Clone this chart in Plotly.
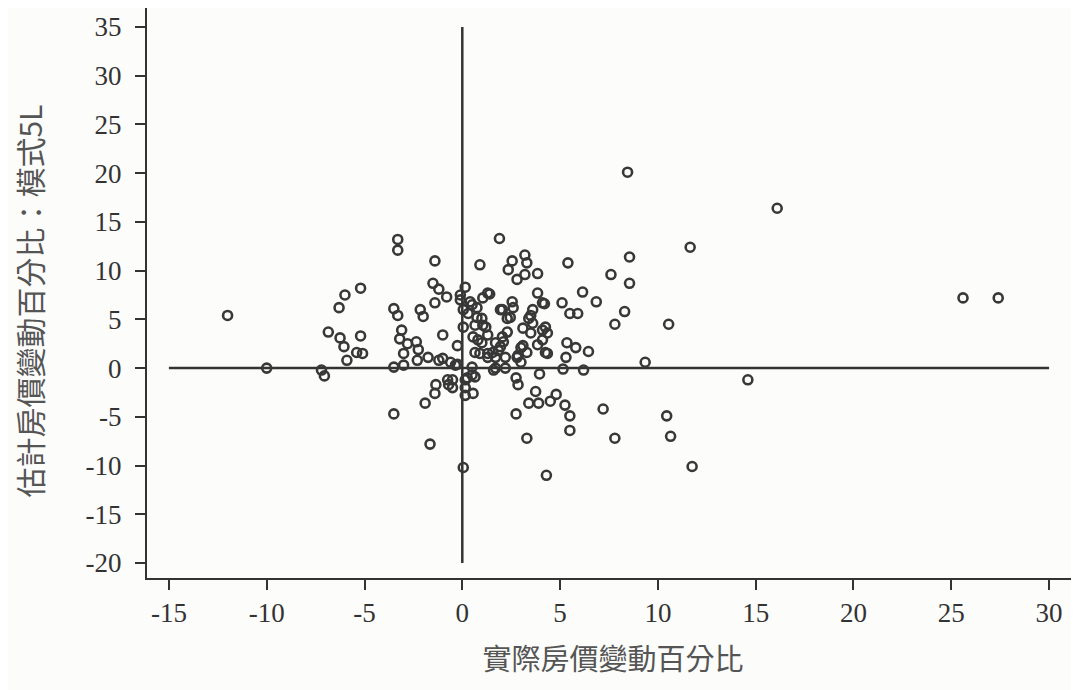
import plotly.graph_objects as go

# Actual house price change (%) -- x
actual_change = [
    -12.0, -10.0, -7.2, -7.05, -6.85, -6.3, -6.0, -5.2, -6.25, -6.05, -5.2, -5.4, -5.1, -5.9,
    -3.3, -3.3, -1.4, -1.5, -1.2, -0.8, -1.4, -3.5, -3.3, -2.15, -2.0, -1.0, -3.1, -3.2, -2.8,
    -2.35, -2.25, -3.0, -1.75, -2.3, -1.2, -0.6, -0.25, -3.5, -3.0, -1.0, -0.75, -0.7, -1.35,
    -1.4, -1.9, -3.5, -1.65, 0.05, -0.25, -0.1, -0.1, 0.05, 0.15, -0.35, 0.15, 0.15, 0.15,
    -0.5, -0.5,
    0.5, 0.75, 1.05, 1.4, 0.3, 0.75, 1.05, 0.05, 0.55, 1.3, 1.0, 0.65, 1.3, 1.7, 1.85, 2.1,
    2.3, 2.05, 2.55, 2.45, 3.1, 3.4, 3.6, 3.6, 1.7, 2.2, 0.5, 0.25, 0.65, 0.55, 0.4, 1.3,
    1.0, 0.65, 1.2, 0.8, 1.7, 2.05, 1.95, 1.55, 0.9, 1.3, 2.2, 2.6, 1.95, 2.3, 3.5, 3.5,
    4.25, 4.35, 4.1, 3.85, 3.3, 4.25, 5.35, 5.8, 5.3, 3.0, 2.8, 3.85, 4.1, 5.1, 5.5, 5.9, 6.15,
    1.9, 0.9, 2.55, 2.35, 3.2, 3.3, 2.8, 3.2, 3.85, 5.4,
    8.55, 8.45, 11.65, 7.6, 8.55, 6.85, 8.3, 7.8, 10.55, 4.2, 6.45, 4.35, 4.1, 3.1, 3.0, 5.15,
    6.2, 9.35, 3.95, 2.75, 2.85, 3.75, 3.4, 3.9, 4.5, 4.8, 5.25, 5.5, 5.5, 7.2, 7.8, 3.3, 2.75,
    4.3, 10.45, 10.65, 11.75, 2.85, 1.6, 0.5,
    16.1, 14.6, 25.6, 27.4,
]

# Estimated house price change (%), model 5L -- y
estimated_change = [
    5.4, 0.0, -0.2, -0.8, 3.7, 6.2, 7.5, 8.2, 3.1, 2.2, 3.3, 1.6, 1.5, 0.8,
    13.2, 12.1, 11.0, 8.7, 8.1, 7.3, 6.7, 6.1, 5.4, 6.0, 5.3, 3.4, 3.9, 3.0, 2.5,
    2.7, 1.9, 1.5, 1.1, 0.8, 0.8, 0.6, 0.4, 0.1, 0.3, 1.0, -1.2, -1.7, -1.7,
    -2.6, -3.6, -4.7, -7.8, -10.2, 2.3, 7.0, 7.5, 6.0, 8.3, 0.3, -1.2, -2.0, -2.8,
    -1.2, -2.0,
    6.5, 6.2, 7.2, 7.6, 5.6, 5.2, 4.4, 4.2, 3.2, 3.4, 2.6, 1.6, 1.5, 1.1, 1.8, 2.7,
    3.7, 6.0, 6.8, 5.2, 4.1, 5.1, 6.0, 4.6, 0.0, 0.0, 0.1, -1.0, -0.9, -2.6, 6.8, 7.7,
    5.1, 4.4, 4.2, 2.9, 2.6, 3.2, 2.2, 1.6, 1.5, 1.1, 1.1, 6.2, 6.0, 5.1, 5.4, 3.6,
    4.2, 3.6, 2.9, 2.4, 1.6, 1.6, 2.6, 2.1, 1.1, 2.1, 1.1, 7.7, 6.7, 6.7, 5.6, 5.6, 7.8,
    13.3, 10.6, 11.0, 10.1, 11.6, 10.8, 9.1, 9.6, 9.7, 10.8,
    11.4, 20.1, 12.4, 9.6, 8.7, 6.8, 5.8, 4.5, 4.5, 6.6, 1.7, 1.5, 3.9, 2.3, 0.6, -0.1,
    -0.2, 0.6, -0.6, -1.0, -1.7, -2.4, -3.6, -3.6, -3.4, -2.7, -3.8, -4.9, -6.4, -4.2, -7.2, -7.2, -4.7,
    -11.0, -4.9, -7.0, -10.1, 1.3, -0.2, -0.7,
    16.4, -1.2, 7.2, 7.2,
]

x_ticks = [-15, -10, -5, 0, 5, 10, 15, 20, 25, 30]
y_ticks = [35, 30, 25, 20, 15, 10, 5, 0, -5, -10, -15, -20]

x_title = "實際房價變動百分比"
y_title = "估計房價變動百分比：模式5L"

ink = "#333333"
fig = go.Figure()

# reference cross lines through zero
fig.add_shape(type="line", xref="x", yref="y", x0=min(x_ticks), x1=max(x_ticks), y0=0, y1=0,
              line=dict(color=ink, width=2.5), layer="below")
fig.add_shape(type="line", xref="x", yref="y", x0=0, x1=0, y0=min(y_ticks), y1=max(y_ticks),
              line=dict(color=ink, width=2.5), layer="below")

fig.add_trace(go.Scatter(
    x=actual_change, y=estimated_change, mode="markers",
    marker=dict(symbol="circle-open", size=9, color="#383838", line=dict(width=2.6, color="#383838")),
    showlegend=False, hoverinfo="x+y",
))

tick_font = dict(family="Liberation Serif, Times New Roman, serif", size=27, color="#333333")
title_font_x = dict(family="Noto Sans CJK TC, Noto Sans CJK SC, sans-serif", size=29, color="#555555")
title_font_y = dict(family="Noto Sans CJK TC, Noto Sans CJK SC, sans-serif", size=30, color="#555555")

fig.update_layout(
    width=1071, height=682,
    margin=dict(l=139, r=0, t=0, b=112, autoexpand=False),
    paper_bgcolor="#fcfcfa", plot_bgcolor="#fcfcfa",
    xaxis=dict(
        range=[-16.12, 31.53], tickvals=x_ticks, ticktext=[str(v) for v in x_ticks],
        showgrid=False, zeroline=False, showline=True, linecolor=ink, linewidth=2,
        ticks="outside", ticklen=10, tickwidth=2, tickcolor=ink, tickfont=tick_font,
        automargin=False,
        title=dict(text=x_title, font=title_font_x, standoff=22),
    ),
    yaxis=dict(
        range=[-21.54, 36.95], tickvals=y_ticks, ticktext=[str(v) for v in y_ticks],
        showgrid=False, zeroline=False, showline=True, linecolor=ink, linewidth=2,
        ticks="outside", ticklen=10, tickwidth=2, tickcolor=ink, tickfont=tick_font,
        ticklabelstandoff=8, automargin=False,
    ),
    annotations=[dict(
        text=y_title, textangle=-90, xref="paper", yref="paper",
        x=-0.127, y=0.486, xanchor="center", yanchor="middle",
        showarrow=False, font=title_font_y,
    )],
)

fig.write_html("out.html")
